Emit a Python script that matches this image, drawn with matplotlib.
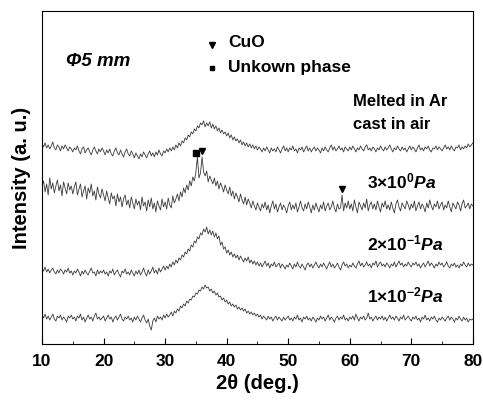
import matplotlib
matplotlib.use("Agg")
import matplotlib.pyplot as plt
import numpy as np

plt.rcParams["font.family"] = ["Liberation Sans", "DejaVu Sans"]
plt.rcParams["font.weight"] = "bold"
plt.rcParams["mathtext.fontset"] = "custom"
plt.rcParams["mathtext.rm"] = "Liberation Sans:bold"
plt.rcParams["mathtext.bf"] = "Liberation Sans:bold"
plt.rcParams["mathtext.it"] = "Liberation Sans:italic:bold"

# 2theta scan grid, 0.25 deg steps from 10 to 80
two_theta = np.linspace(10, 80, 281)

# intensity (a.u., offset traces)
melted_ar_cast_air = [
    200, 197, 201, 196, 199, 195, 198, 202, 196, 194, 199, 197, 193, 198, 195, 199, 196, 193, 197, 195,
    192, 196, 194, 198, 193, 190, 195, 197, 191, 194, 196, 192, 189, 194, 197, 193, 190, 195, 192, 196,
    193, 189, 194, 191, 195, 190, 188, 193, 196, 191, 189, 194, 190, 187, 192, 195, 190, 188, 193, 190,
    186, 191, 188, 185, 190, 187, 192, 189, 186, 190, 193, 188, 191, 187, 192, 189, 194, 190, 188, 193,
    191, 195, 192, 196, 193, 197, 194, 199, 196, 201, 198, 203, 201, 206, 204, 209, 207, 212, 210, 215,
    213, 218, 216, 221, 219, 223, 217, 221, 218, 222, 216, 220, 215, 218, 213, 216, 211, 214, 210, 212,
    208, 211, 206, 209, 204, 207, 203, 205, 201, 204, 199, 202, 198, 201, 197, 200, 196, 199, 195, 198,
    194, 197, 195, 192, 196, 193, 197, 194, 191, 196, 193, 195, 192, 197, 194, 191, 195, 198, 193, 196,
    192, 196, 194, 198, 193, 195, 191, 196, 194, 197, 192, 195, 198, 193, 196, 192, 195, 197, 193, 196,
    194, 191, 196, 193, 197, 194, 192, 196, 199, 194, 197, 193, 195, 198, 194, 196, 192, 197, 195, 193,
    197, 194, 198, 195, 192, 196, 194, 198, 195, 193, 197, 199, 194, 196, 193, 197, 195, 192, 196, 194,
    198, 195, 193, 197, 194, 196, 199, 195, 192, 196, 194, 198, 195, 193, 197, 194, 196, 192, 195, 198,
    194, 197, 195, 192, 196, 199, 194, 196, 193, 197, 195, 198, 194, 192, 196, 195, 198, 194, 197, 195,
    193, 196, 199, 195, 197, 194, 198, 195, 193, 197, 196, 199, 194, 197, 195, 198, 196, 200, 197, 199,
    201,
]
p_3e0 = [
    158, 163, 152, 160, 149, 166, 155, 161, 151, 158, 164, 153, 159, 148, 162, 156, 150, 161, 154, 158,
    150, 157, 162, 149, 155, 160, 147, 153, 158, 145, 156, 151, 160, 148, 153, 144, 157, 150, 146, 155,
    149, 143, 153, 146, 140, 151, 145, 148, 138, 150, 142, 147, 137, 145, 149, 139, 144, 136, 147, 141,
    135, 145, 139, 143, 134, 147, 138, 142, 133, 144, 137, 146, 135, 141, 132, 143, 138, 134, 145, 137,
    142, 135, 146, 139, 136, 148, 141, 145, 150, 143, 152, 147, 156, 151, 159, 154, 163, 158, 167, 163,
    172, 187, 166, 171, 187, 172, 168, 173, 162, 168, 164, 160, 166, 158, 163, 155, 161, 157, 152, 159,
    154, 150, 157, 148, 153, 145, 151, 147, 142, 150, 144, 140, 147, 139, 145, 141, 136, 143, 138, 134,
    141, 137, 133, 140, 136, 142, 134, 139, 131, 138, 143, 135, 140, 132, 137, 141, 134, 139, 136, 131,
    138, 142, 134, 139, 135, 141, 132, 137, 143, 136, 133, 140, 135, 142, 137, 131, 139, 134, 141, 136,
    132, 139, 135, 142, 133, 138, 141, 134, 137, 143, 136, 132, 140, 135, 136, 149, 133, 141, 136, 143,
    135, 140, 133, 144, 137, 131, 142, 138, 134, 141, 136, 145, 133, 139, 142, 135, 140, 134, 143, 137,
    132, 141, 137, 143, 135, 139, 134, 142, 136, 131, 140, 144, 137, 133, 141, 138, 135, 143, 139, 134,
    140, 136, 143, 133, 138, 142, 135, 140, 137, 132, 141, 136, 144, 138, 134, 140, 137, 143, 135, 139,
    142, 134, 139, 136, 143, 137, 132, 141, 138, 135, 142, 139, 133, 140, 144, 136, 138, 141, 135, 140,
    138,
]
p_2e_1 = [
    76, 73, 77, 72, 75, 71, 74, 76, 72, 70, 74, 71, 75, 73, 70, 74, 72, 76, 71, 73,
    69, 73, 71, 75, 72, 68, 73, 70, 74, 71, 69, 73, 76, 71, 72, 68, 74, 70, 73, 71,
    74, 70, 72, 68, 73, 71, 75, 69, 72, 74, 70, 67, 73, 71, 75, 70, 72, 69, 74, 71,
    68, 73, 70, 74, 69, 72, 76, 71, 68, 74, 70, 73, 77, 71, 74, 70, 76, 72, 75, 78,
    74, 78, 75, 80, 77, 82, 79, 84, 81, 86, 84, 89, 87, 92, 90, 95, 93, 99, 97, 103,
    101, 107, 105, 111, 109, 115, 112, 117, 110, 114, 109, 113, 107, 111, 105, 108, 99, 102, 95, 97,
    91, 94, 89, 92, 87, 90, 86, 89, 84, 88, 85, 82, 86, 83, 87, 81, 84, 80, 83, 79,
    82, 78, 81, 77, 80, 83, 78, 81, 76, 80, 78, 82, 77, 79, 81, 76, 80, 78, 75, 79,
    77, 81, 78, 75, 80, 77, 82, 78, 76, 80, 77, 74, 79, 81, 77, 80, 76, 79, 82, 78,
    76, 80, 77, 81, 78, 75, 79, 82, 77, 80, 76, 78, 81, 77, 74, 79, 82, 78, 80, 76,
    79, 77, 81, 78, 76, 80, 83, 78, 81, 77, 79, 82, 78, 80, 76, 81, 79, 83, 77, 80,
    82, 78, 80, 77, 81, 79, 76, 80, 78, 82, 77, 80, 83, 79, 81, 77, 80, 78, 82, 79,
    77, 81, 79, 82, 78, 80, 76, 79, 81, 77, 80, 83, 78, 81, 79, 76, 80, 78, 82, 79,
    81, 77, 79, 82, 78, 76, 80, 78, 81, 77, 79, 76, 80, 78, 82, 79, 77, 81, 78, 80,
    79,
]
p_1e_2 = [
    29, 26, 30, 25, 28, 24, 27, 30, 25, 23, 28, 26, 29, 24, 27, 25, 22, 28, 26, 29,
    25, 27, 23, 28, 26, 30, 24, 27, 22, 26, 29, 25, 27, 23, 28, 31, 25, 27, 24, 26,
    28, 23, 26, 29, 25, 27, 22, 26, 28, 24, 27, 30, 25, 23, 27, 25, 28, 24, 26, 22,
    27, 24, 28, 25, 22, 26, 29, 24, 21, 25, 18, 14, 23, 26, 22, 28, 25, 27, 24, 29,
    26, 30, 27, 29, 32, 28, 33, 31, 35, 33, 38, 36, 40, 38, 43, 41, 45, 44, 48, 47,
    51, 50, 54, 53, 57, 55, 59, 56, 57, 53, 55, 51, 53, 49, 51, 47, 48, 44, 46, 42,
    44, 40, 42, 38, 40, 37, 39, 35, 37, 34, 36, 33, 35, 31, 33, 30, 32, 29, 31, 28,
    30, 27, 29, 25, 28, 26, 24, 28, 25, 27, 23, 26, 28, 24, 27, 25, 23, 27, 24, 26,
    28, 24, 26, 23, 27, 25, 29, 24, 26, 22, 27, 25, 28, 24, 26, 23, 27, 25, 22, 26,
    24, 28, 25, 27, 23, 26, 29, 24, 27, 25, 22, 26, 28, 24, 27, 25, 29, 24, 26, 23,
    27, 25, 28, 24, 30, 26, 23, 27, 25, 28, 24, 26, 31, 25, 27, 23, 26, 28, 24, 27,
    25, 28, 24, 27, 23, 26, 29, 25, 27, 24, 28, 26, 23, 27, 25, 29, 24, 26, 28, 25,
    23, 27, 25, 28, 24, 26, 22, 27, 25, 29, 24, 26, 23, 27, 25, 28, 24, 22, 26, 24,
    27, 25, 23, 26, 28, 24, 27, 25, 22, 26, 24, 28, 25, 23, 27, 24, 26, 22, 25, 24,
    25,
]

curves = [melted_ar_cast_air, p_3e0, p_2e_1, p_1e_2]

# phase markers: (2theta, intensity)
cuo_peaks_x = [36.0, 58.7]
cuo_peaks_y = [193, 155]
unknown_peaks_x = [35.0]
unknown_peaks_y = [191]

fig = plt.figure(figsize=(4.83, 4.01), dpi=100)
ax = fig.add_axes([0.087, 0.142, 0.892, 0.831])

for y in curves:
    ax.plot(two_theta, y, color="#3a3a3a", linewidth=0.6)

ax.plot(cuo_peaks_x, cuo_peaks_y, linestyle="none", marker="v", color="black", markersize=5)
ax.plot(unknown_peaks_x, unknown_peaks_y, linestyle="none", marker="s", color="black", markersize=4)

# legend-like annotations
ax.plot([37.6], [299], linestyle="none", marker="v", color="black", markersize=4)
ax.plot([37.6], [276], linestyle="none", marker="s", color="black", markersize=3.5)
ax.text(40.2, 301, "CuO", fontsize=12.5, fontweight="bold", va="center")
ax.text(40.2, 276, "Unkown phase", fontsize=12.5, fontweight="bold", va="center")
ax.text(13.9, 282, "Φ5 mm", fontsize=13.5, fontweight="bold", style="italic", va="center")

ax.text(60.5, 242, "Melted in Ar", fontsize=12, fontweight="bold", va="center")
ax.text(60.5, 219, "cast in air", fontsize=12, fontweight="bold", va="center")
ax.text(62.8, 162, r"$3{\times}10^{0}\mathit{Pa}$", fontsize=12.5, va="center")
ax.text(62.8, 101, r"$2{\times}10^{-1}\mathit{Pa}$", fontsize=12.5, va="center")
ax.text(62.8, 49, r"$1{\times}10^{-2}\mathit{Pa}$", fontsize=12.5, va="center")

ax.set_xlim(10, 80)
ax.set_ylim(0, 333)
ax.set_xticks(np.arange(10, 81, 10))
ax.set_xticks(np.arange(15, 80, 10), minor=True)
ax.set_yticks([])
ax.tick_params(axis="x", which="major", direction="in", length=4, labelsize=12.5, pad=7)
ax.tick_params(axis="x", which="minor", direction="in", length=2)
for lab in ax.get_xticklabels():
    lab.set_fontweight("bold")

ax.set_xlabel("2θ (deg.)", fontsize=14.5, fontweight="bold", labelpad=4)
ax.set_ylabel("Intensity (a. u.)", fontsize=14.5, fontweight="bold", labelpad=8)

for spine in ax.spines.values():
    spine.set_linewidth(0.8)

fig.savefig("out.png", dpi=100)
